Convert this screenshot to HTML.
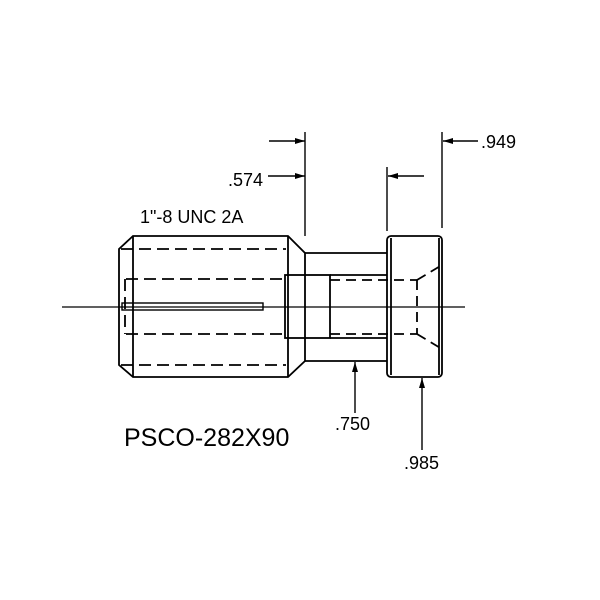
<!DOCTYPE html>
<html><head><style>html,body{margin:0;padding:0;background:#fff}svg{display:block}</style></head>
<body>
<svg width="600" height="600" viewBox="0 0 600 600" xmlns="http://www.w3.org/2000/svg" font-family="Liberation Sans, sans-serif">
<defs>
<marker id="a" viewBox="0 0 10 6" refX="10" refY="3" markerWidth="12" markerHeight="6" markerUnits="userSpaceOnUse" orient="auto"><path d="M0,0L10,3L0,6z" fill="#000"/></marker>
</defs>
<g stroke="#000" stroke-width="1.8" fill="none">
<path d="M133,236 L288,236 L305,253 L305,361 L288,377 L133,377 L119,365 L119,249 Z"/>
<line x1="133" y1="236" x2="133" y2="377"/>
<line x1="288" y1="236" x2="288" y2="377"/>
<g stroke-dasharray="12,6">
<line x1="121" y1="249" x2="286" y2="249"/>
<line x1="121" y1="365" x2="286" y2="365"/>
<line x1="126" y1="279" x2="285" y2="279"/>
<line x1="126" y1="334" x2="285" y2="334"/>
<line x1="125" y1="279" x2="125" y2="334"/>
</g>
<rect x="122" y="303" width="141" height="7" stroke-width="1.4"/>
<line x1="305" y1="253" x2="387" y2="253"/>
<line x1="305" y1="361" x2="387" y2="361"/>
<rect x="285" y="275" width="45" height="63"/>
<line x1="330" y1="275" x2="387" y2="275"/>
<line x1="330" y1="338" x2="387" y2="338"/>
<rect x="387" y="236" width="55" height="141" rx="4"/>
<line x1="391" y1="238" x2="391" y2="375"/>
<line x1="439" y1="238" x2="439" y2="375"/>
<g stroke-dasharray="10,6">
<line x1="330" y1="280" x2="417" y2="280"/>
<line x1="330" y1="334" x2="417" y2="334"/>
<line x1="417" y1="280" x2="417" y2="334"/>
<line x1="417" y1="280" x2="442" y2="265"/>
<line x1="417" y1="334" x2="442" y2="349"/>
</g>
<line x1="62" y1="307" x2="465" y2="307" stroke-width="1.3"/>
<line x1="305" y1="132" x2="305" y2="236" stroke-width="1.4"/>
<line x1="387" y1="167" x2="387" y2="231" stroke-width="1.4"/>
<line x1="442" y1="132" x2="442" y2="228" stroke-width="1.4"/>
<line x1="269" y1="141" x2="305" y2="141" stroke-width="1.4" marker-end="url(#a)"/>
<line x1="268" y1="176" x2="305" y2="176" stroke-width="1.4" marker-end="url(#a)"/>
<line x1="424" y1="176" x2="388" y2="176" stroke-width="1.4" marker-end="url(#a)"/>
<line x1="478" y1="141" x2="443" y2="141" stroke-width="1.4" marker-end="url(#a)"/>
<line x1="355" y1="413" x2="355" y2="362" stroke-width="1.4" marker-end="url(#a)"/>
<line x1="422" y1="450" x2="422" y2="378" stroke-width="1.4" marker-end="url(#a)"/>
</g>
<g fill="#000">
<text x="263" y="186" font-size="18" text-anchor="end">.574</text>
<text x="481" y="148" font-size="18">.949</text>
<text x="140" y="223" font-size="18">1"-8 UNC 2A</text>
<text x="335" y="430" font-size="18">.750</text>
<text x="404" y="469" font-size="18">.985</text>
<text x="124" y="446" font-size="25">PSCO-282X90</text>
</g>
</svg>
</body></html>
